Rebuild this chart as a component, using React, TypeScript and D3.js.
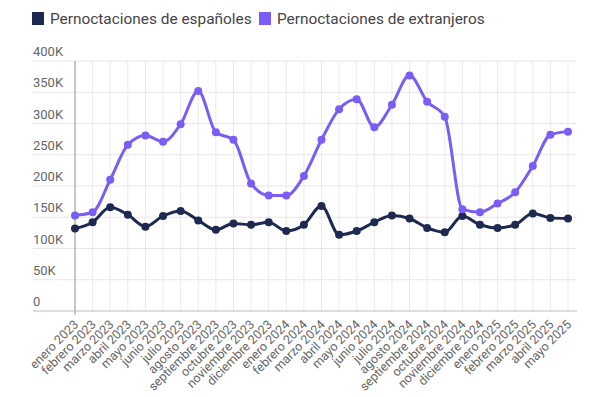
import React from 'react';
import * as d3 from 'd3';

const months = [
  'enero 2023', 'febrero 2023', 'marzo 2023', 'abril 2023', 'mayo 2023', 'junio 2023',
  'julio 2023', 'agosto 2023', 'septiembre 2023', 'octubre 2023', 'noviembre 2023', 'diciembre 2023',
  'enero 2024', 'febrero 2024', 'marzo 2024', 'abril 2024', 'mayo 2024', 'junio 2024',
  'julio 2024', 'agosto 2024', 'septiembre 2024', 'octubre 2024', 'noviembre 2024', 'diciembre 2024',
  'enero 2025', 'febrero 2025', 'marzo 2025', 'abril 2025', 'mayo 2025',
];

const espanoles = [
  132, 142, 166, 154, 135, 152, 160, 145, 130, 140, 138, 142,
  128, 138, 168, 122, 128, 142, 153, 148, 133, 126, 152, 138,
  133, 138, 156, 149, 148,
].map(v => v * 1000);

const extranjeros = [
  153, 158, 210, 266, 281, 271, 299, 352, 286, 274, 204, 185,
  185, 216, 274, 323, 339, 294, 330, 377, 335, 311, 163, 158,
  172, 190, 232, 282, 287,
].map(v => v * 1000);

const yTicks = [0, 50000, 100000, 150000, 200000, 250000, 300000, 350000, 400000];

const series = [
  { name: 'Pernoctaciones de españoles', color: '#1d2951', values: espanoles },
  { name: 'Pernoctaciones de extranjeros', color: '#7b5cf6', values: extranjeros },
];

const W = 600;
const H = 397;
const left = 75;
const right = 568;
const top = 61;
const bottom = 311;

export default function App() {
  const x = d3.scalePoint<string>().domain(months).range([left, right]);
  const y = d3.scaleLinear().domain([0, 400000]).range([bottom, top]);
  const line = d3.line<number>()
    .x((_, i) => x(months[i]) as number)
    .y(d => y(d))
    .curve(d3.curveMonotoneX);
  const fmt = (v: number) => (v === 0 ? '0' : `${v / 1000}K`);

  return (
    <svg width={W} height={H} style={{ position: 'absolute', left: 0, top: 0, fontFamily: 'Roboto, sans-serif' }}>
      <rect width={W} height={H} fill="#fff" />
      {/* legend */}
      <rect x={32} y={12} width={12} height={13} fill={series[0].color} />
      <text x={50} y={24} fontSize={15.4} fill="#444">{series[0].name}</text>
      <rect x={259} y={12} width={12} height={13} fill={series[1].color} />
      <text x={277} y={24} fontSize={15.4} fill="#444">{series[1].name}</text>

      {/* vertical grid */}
      {months.map(m => (
        <line key={m} x1={x(m)} x2={x(m)} y1={top} y2={bottom} stroke="#ebebeb" />
      ))}
      {/* horizontal grid + labels */}
      {yTicks.map(t => (
        <g key={t}>
          {t > 0 && <line x1={33} x2={576} y1={y(t)} y2={y(t)} stroke="#e6e6e6" />}
          <text x={33} y={y(t) - 5} fontSize={13} fill="#666">{fmt(t)}</text>
        </g>
      ))}
      <line x1={left} x2={left} y1={top} y2={bottom + 4} stroke="#999" />
      <line x1={33} x2={577} y1={bottom} y2={bottom} stroke="#bbb" />

      {/* x labels */}
      {months.map(m => (
        <g key={m} transform={`translate(${(x(m) as number) - 2},${bottom + 8}) rotate(-45)`}>
          <text textAnchor="end" dy="0.7em" fontSize={12.5} fill="#666">{m}</text>
        </g>
      ))}

      {/* lines */}
      {series.map(s => (
        <g key={s.name}>
          <path d={line(s.values) as string} fill="none" stroke={s.color} strokeWidth={3} />
          {s.values.map((v, i) => (
            <circle key={i} cx={x(months[i])} cy={y(v)} r={4} fill={s.color} />
          ))}
        </g>
      ))}
    </svg>
  );
}
